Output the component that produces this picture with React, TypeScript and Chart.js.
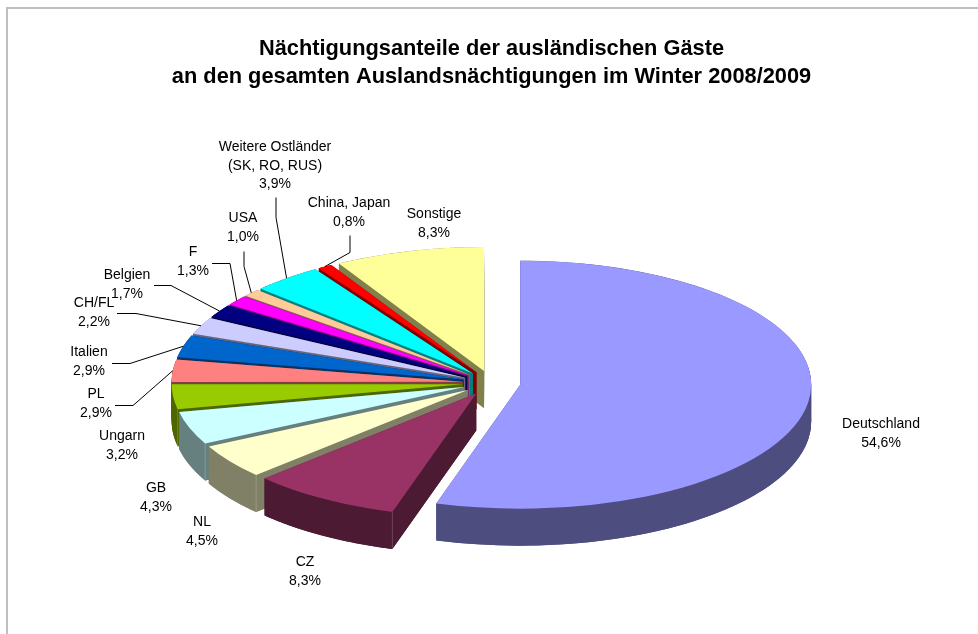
import React, { useEffect, useRef } from "react";
import { Chart, registerables } from "chart.js";

Chart.register(...registerables);

const categories = ["Deutschland", "CZ", "NL", "GB", "Ungarn", "PL", "Italien", "CH/FL", "Belgien", "F", "USA", "Weitere Ostländer (SK, RO, RUS)", "China, Japan", "Sonstige"];
const shares = [54.6, 8.3, 4.5, 4.3, 3.2, 2.9, 2.9, 2.2, 1.7, 1.3, 1.0, 3.9, 0.8, 8.3];
const shareLabels = ["54,6%", "8,3%", "4,5%", "4,3%", "3,2%", "2,9%", "2,9%", "2,2%", "1,7%", "1,3%", "1,0%", "3,9%", "0,8%", "8,3%"];
const labelLines = [["Deutschland"], ["CZ"], ["NL"], ["GB"], ["Ungarn"], ["PL"], ["Italien"], ["CH/FL"], ["Belgien"], ["F"], ["USA"], ["Weitere Ostländer", "(SK, RO, RUS)"], ["China, Japan"], ["Sonstige"]];
const topColors = ["#9999FF", "#993366", "#FFFFCC", "#CCFFFF", "#99CC00", "#FF8080", "#0066CC", "#CCCCFF", "#000080", "#FF00FF", "#FFCC99", "#00FFFF", "#FF0000", "#FFFF99"];
const sideColors = ["#4D4D80", "#4D1A33", "#808066", "#668080", "#4D6600", "#804040", "#003366", "#666680", "#000040", "#800080", "#80664D", "#008080", "#800000", "#80804D"];
const titleLines = ["Nächtigungsanteile der ausländischen Gäste", "an den gesamten Auslandsnächtigungen im Winter 2008/2009"];
const cornerEdged = [1, 2, 3, 4];

// Label layout: centre of the first text line, and the leader's fixed points.
const labelCentres: number[][] = [[881, 424], [305, 562], [202, 522], [156, 488], [122, 436], [96, 394], [89, 352], [94, 303], [127, 275], [193, 252], [243, 218], [275, 147], [349, 203], [434, 214]];
const leaderPaths: (number[][] | null)[] = [null, null, null, null, null,
  [[115, 405], [133, 405]], [[112, 363], [130, 363]], [[117, 313], [136, 313]], [[154, 285], [171, 285]], [[212, 263], [230, 263]],
  [[244, 251], [244, 266]], [[276, 197], [276, 217]], [[350, 235], [350, 252]], null];

const TILT = 0.426;
const DEPTH = 37;
const EXPLODE = 29;
const RADIUS = 291;
const BAND_STEPS = 96;
const LABEL_FONT = "14px 'Liberation Sans'";
const drawOrder = [13, 12, 11, 10, 9, 8, 7, 6, 5, 4, 3, 2, 1, 0];

const pie3d = {
  id: "pie3d",
  beforeDraw(chart: any) {
    const { ctx, width, height } = chart;
    ctx.save();
    ctx.strokeStyle = "#BFBFBF";
    ctx.lineWidth = 2;
    ctx.beginPath();
    ctx.moveTo(7, height);
    ctx.lineTo(7, 8);
    ctx.lineTo(width, 8);
    ctx.stroke();
    ctx.restore();
  },
  beforeDatasetDraw(chart: any, args: any) {
    const { ctx } = chart;
    const arcs = args.meta.data;
    const paint = (arc: any, dy: number, color: string) => {
      const original = arc.options;
      const mid = (arc.startAngle + arc.endAngle) / 2;
      arc.options = Object.assign({}, original, { backgroundColor: color });
      ctx.save();
      ctx.translate(arc.x, arc.y + dy);
      ctx.scale(1, TILT);
      ctx.translate(Math.cos(mid) * EXPLODE, Math.sin(mid) * EXPLODE);
      ctx.translate(-arc.x, -arc.y);
      arc.draw(ctx);
      ctx.restore();
      arc.options = original;
    };
    // Projected position of a point on the slice's rim (r = 0 is its apex).
    const rim = (arc: any, angle: number, r: number, dy: number) => {
      const mid = (arc.startAngle + arc.endAngle) / 2;
      return [
        arc.x + Math.cos(mid) * EXPLODE + Math.cos(angle) * r,
        arc.y + (Math.sin(mid) * EXPLODE + Math.sin(angle) * r) * TILT + dy,
      ];
    };
    const fillPoly = (points: number[][]) => {
      ctx.beginPath();
      points.forEach(([x, y], n) => (n ? ctx.lineTo(x, y) : ctx.moveTo(x, y)));
      ctx.closePath();
      ctx.fill();
    };
    drawOrder.forEach((i) => {
      const arc = arcs[i];
      for (let dy = DEPTH; dy > 0; dy--) paint(arc, dy, sideColors[i]);
      // One solid pass over the side faces, so the stacked layers leave no banding.
      ctx.save();
      ctx.fillStyle = sideColors[i];
      const R = arc.outerRadius;
      const top: number[][] = [];
      const bottom: number[][] = [];
      for (let s = 0; s <= BAND_STEPS; s++) {
        const a = arc.startAngle + ((arc.endAngle - arc.startAngle) * s) / BAND_STEPS;
        top.push(rim(arc, a, R, 0));
        bottom.unshift(rim(arc, a, R, DEPTH));
      }
      fillPoly([...top, ...bottom]);
      [arc.startAngle, arc.endAngle].forEach((a: number) =>
        fillPoly([rim(arc, a, 0, 0), rim(arc, a, R, 0), rim(arc, a, R, DEPTH), rim(arc, a, 0, DEPTH)])
      );
      ctx.restore();
      if (cornerEdged.includes(i)) {
        const [cx, cy] = rim(arc, arc.startAngle, arc.outerRadius, 0);
        ctx.save();
        ctx.strokeStyle = "rgba(255,255,255,0.2)";
        ctx.lineWidth = 1;
        ctx.beginPath();
        ctx.moveTo(cx, cy);
        ctx.lineTo(cx, cy + DEPTH);
        ctx.stroke();
        ctx.restore();
      }
      paint(arc, 0, topColors[i]);
    });
    return false;
  },
  afterDatasetsDraw(chart: any) {
    const { ctx } = chart;
    const arcs = chart.getDatasetMeta(0).data;
    ctx.save();
    ctx.strokeStyle = "#000";
    ctx.lineWidth = 1;
    ctx.fillStyle = "#000";
    ctx.font = LABEL_FONT;
    ctx.textAlign = "center";
    ctx.textBaseline = "middle";
    categories.forEach((_, i) => {
      const path = leaderPaths[i];
      if (path) {
        const arc = arcs[i];
        const mid = (arc.startAngle + arc.endAngle) / 2;
        const reach = arc.outerRadius + EXPLODE;
        ctx.beginPath();
        path.forEach(([x, y], n) => (n ? ctx.lineTo(x, y + 0.5) : ctx.moveTo(x, y + 0.5)));
        ctx.lineTo(arc.x + Math.cos(mid) * reach, arc.y + Math.sin(mid) * reach * TILT);
        ctx.stroke();
      }
      const [x, y] = labelCentres[i];
      const lines = [...labelLines[i], shareLabels[i]];
      lines.forEach((line, n) => ctx.fillText(line, x, y + n * 18.7));
    });
    ctx.restore();
  },
};

export default function App() {
  const ref = useRef<HTMLCanvasElement>(null);
  useEffect(() => {
    document.body.style.margin = "0";
    const chart = new Chart(ref.current!, {
      type: "pie",
      data: {
        labels: categories,
        datasets: [{ data: shares, backgroundColor: topColors, borderWidth: 0, radius: RADIUS }],
      },
      options: {
        responsive: false,
        animation: false,
        layout: { padding: { left: 5 } },
        plugins: {
          legend: { display: false },
          tooltip: { enabled: false },
          title: {
            display: true,
            text: titleLines,
            color: "#000",
            font: { family: "'Liberation Sans'", size: 21.8, weight: "bold", lineHeight: 1.28 },
            padding: { top: 35, bottom: 41 },
          },
        },
      },
      plugins: [pie3d],
    } as any);
    return () => chart.destroy();
  }, []);
  return (
    <div style={{ position: "absolute", left: 0, top: 0 }}>
      <canvas ref={ref} width={978} height={634} style={{ display: "block" }} />
    </div>
  );
}
